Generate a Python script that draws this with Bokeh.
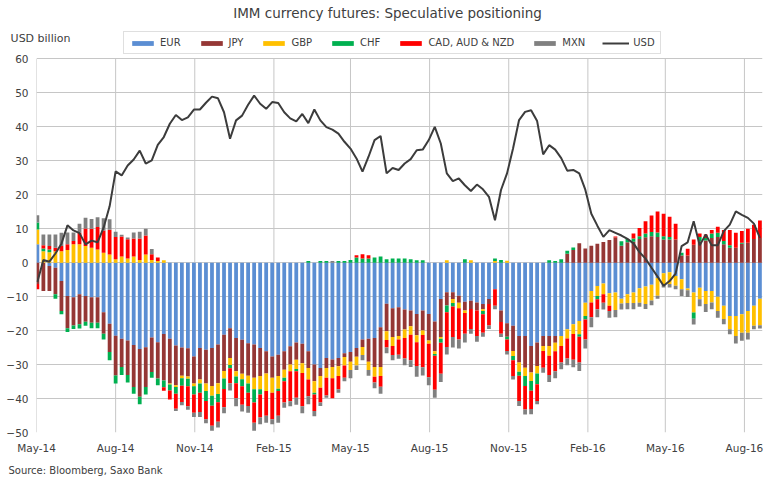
import numpy as np
import pandas as pd
from bokeh.plotting import figure
from bokeh.models import (ColumnDataSource, Range1d, FixedTicker, DatetimeTickFormatter,
                          Legend, LegendItem, Label, LinearAxis)
from bokeh.embed import file_html
from bokeh.resources import INLINE

title_text = "IMM currency futures: Speculative positioning"
y_label = "USD billion"
source_text = "Source: Bloomberg, Saxo Bank"
first_week = "2014-05-02"
tick_dates = ["2014-05-01", "2014-08-01", "2014-11-01", "2015-02-01", "2015-05-01",
              "2015-08-01", "2015-11-01", "2016-02-01", "2016-05-01", "2016-08-01"]
y_ticks = list(range(-50, 61, 10))

eur = [5.4, 0, -1.0, -1.5, -5.4, -9.8, -10.2, -9.3, -9.8, -10.2,
       -10.2, -14.6, -18.0, -21.5, -22.4, -22.9, -24.2, -25.4, -24.9, -22.0,
       -23.4, -21.0, -22.4, -24.4, -25.0, -25.2, -27.6, -25.1, -25.6, -25.1,
       -24.1, -21.2, -19.3, -22.2, -22.7, -23.7, -24.1, -25.1, -26.1, -27.6,
       -27.1, -26.1, -24.6, -23.5, -23.9, -26.1, -30.0, -31.0, -28.1, -28.5,
       -28.1, -26.7, -26.3, -25.1, -22.6, -22.4, -22.2, -19.0, -12.1, -13.4,
       -13.1, -13.8, -14.1, -15.1, -14.1, -15.1, -17.3, -10.7, -8.7, -8.7,
       -9.7, -11.5, -11.2, -11.7, -12.2, -10.7, -7.8, -14.1, -17.8, -18.6,
       -21.6, -21.6, -24.5, -23.5, -21.6, -21.6, -21.6, -21.6, -19.6, -18.1,
       -17.2, -11.8, -8.3, -6.9, -6.1, -9.0, -8.8, -10.6, -9.3, -8.8,
       -7.5, -7.0, -6.5, -4.5, -3.1, -2.8, -3.9, -4.9, -7.6, -8.8,
       -7.4, -8.3, -8.3, -10.0, -12.7, -15.7, -15.7, -15.2, -14.2, -12.7,
       -10.6]
jpy = [-6.3, -8.3, -7.3, -7.8, -8.8, -9.5, -8.3, -8.8, -7.6, -7.5,
       -7.5, -6.3, -8.3, -11.7, -8.3, -10.2, -12.4, -14.1, -11.7, -10.2,
       -10.7, -13.7, -13.2, -11.7, -8.3, -8.3, -8.0, -9.3, -10.0, -11.2,
       -11.4, -10.7, -8.8, -9.8, -10.0, -9.6, -9.8, -8.3, -6.5, -6.3,
       -6.3, -5.4, -5.4, -5.1, -5.7, -4.9, -4.9, -2.4, -2.9, -2.2,
       -2.4, -1.1, -2.9, -2.6, -2.2, -6.8, -8.5, -11.7, -8.1, -8.5,
       -8.5, -5.9, -4.6, -6.3, -5.9, -7.8, -8.8, -11.2, -3.9, -2.0,
       -2.1, -2.6, -2.4, -2.4, -1.5, -1.5, 0, -3.4, -4.0, -7.4,
       -7.8, -9.3, -7.8, -6.9, -2.9, -2.9, -2.0, 0, 2.6, 3.7,
       5.7, 4.2, 5.0, 5.6, 6.1, 6.7, 7.4, 5.0, 6.0, 6.2,
       7.0, 7.5, 7.8, 7.6, 6.8, 6.8, 6.8, 2.1, 2.1, 5.3,
       6.3, 6.5, 7.3, 7.6, 5.4, 4.4, 4.4, 5.6, 5.9, 7.0,
       7.3]
gbp = [4.4, 3.4, 3.1, 3.4, 3.4, 3.7, 5.4, 5.4, 4.9, 4.4,
       3.9, 2.9, 2.4, 1.0, 1.8, 1.2, 1.8, 0.8, 2.4, 0.8,
       0.5, 0.7, -0.3, -0.5, -0.7, -0.7, -0.8, -1.2, -2.2, -2.9,
       -3.2, -2.2, -2.0, -1.5, -1.6, -2.3, -3.4, -3.9, -5.2, -4.4,
       -3.7, -2.4, -2.0, -2.7, -2.9, -3.4, -3.4, -3.4, -2.9, -3.3,
       -2.9, -2.5, -2.4, -2.6, -2.4, -2.4, -2.9, -2.7, -2.6, -2.6,
       -1.0, -2.5, -2.5, -2.0, -1.3, -1.0, -0.8, -0.5, 0.7, -1.2,
       -1.6, -0.7, 0.7, 0, -0.5, 0, 0.5, 0, 0.6, -1.5,
       -2.7, -2.5, -2.5, -2.2, -1.5, -2.9, -2.5, -2.9, -2.7, -2.9,
       -3.9, -3.9, -3.4, -2.9, -3.2, -3.7, -5.1, -1.4, -2.6, -3.1,
       -4.3, -5.2, -4.6, -5.2, -3.2, -3.5, -2.9, -2.9, -0.5, -5.9,
       -3.4, -3.9, -3.4, -4.2, -3.9, -3.9, -5.9, -5.4, -6.4, -5.9,
       -7.8]
chf = [2.0, 0.8, 0.8, -1.3, -1.0, -1.1, -1.0, -1.3, -1.2, -1.6,
       -1.6, -1.7, -2.4, -2.4, -2.4, -2.2, -2.0, -2.2, -2.2, -1.7,
       -2.0, -2.0, -1.7, -2.0, -2.2, -2.2, -2.4, -2.7, -2.9, -2.9,
       -2.4, -3.1, -1.0, -2.0, -2.1, -2.7, -3.9, -1.5, 0, 0,
       -0.7, -1.0, 0, -0.7, 0, 0.5, -0.5, 0.5, 0.5, 0,
       0.5, 0.5, 0.8, 1.5, 1.2, 1.2, 1.5, 1.8, 1.0, 1.2,
       1.2, 1.2, 1.0, 0.7, 0.7, 0, -0.5, -1.2, -2.0, -1.0,
       0, 1.0, 0, 0, -1.0, 0, 0.7, 0.8, -0.8, -1.2,
       -1.2, -2.9, -2.9, -3.2, 0, 0.7, 0.5, 1.0, 0.9, 0.8,
       -0.7, -1.0, 0, -1.0, 0, 0, 0, 1.3, 1.0, 0.9,
       0.8, 1.1, 1.2, 1.3, 1.0, 0.8, 0, 0.8, 0, -1.8,
       1.3, 0.8, 1.3, 1.2, 1.0, 0.7, 0, 0.3, 0, 0,
       0]
cad_aud_nzd = [-1.5, 0.9, 1.0, 1.0, 1.5, 1.7, 1.0, 3.4, 5.2, 5.6,
               6.6, 6.6, 7.3, 6.6, 5.9, 5.7, 5.3, 6.3, 5.6, 1.7,
               1.0, -1.0, -2.7, -4.4, -4.8, -5.9, -5.4, -5.7, -5.4, -5.9,
               -5.7, -5.4, -4.4, -4.4, -5.4, -3.9, -5.9, -6.8, -7.3, -7.8,
               -7.3, -6.3, -8.8, -7.8, -9.8, -4.9, -4.9, -4.4, -5.2, -5.9,
               -3.9, -3.6, 0, 0.7, 1.3, 1.0, -1.7, -3.1, -2.2, -2.7,
               -4.5, -6.0, -7.5, -7.0, -9.5, -9.8, -10.0, -9.1, -10.2, -9.0,
               -9.2, -6.1, -5.9, -7.5, -5.4, -6.3, -4.9, -3.4, -3.4, -4.7,
               -7.4, -6.9, -5.4, -4.9, -4.9, -5.7, -5.9, -4.9, -5.9, -7.6,
               -7.6, -5.9, -4.4, -2.9, -2.5, -1.5, 0.3, 0, 0, 1.5,
               2.4, 3.6, 4.9, 6.2, 6.6, 5.9, 4.7, 0, 2.0, 1.5,
               1.0, 1.0, 1.0, 1.8, 3.2, 4.5, 4.4, 3.4, 4.1, 4.2,
               5.1]
mxn = [2.2, 3.2, 3.4, 3.9, 3.9, 3.5, 2.5, 2.7, 3.1, 2.9,
       2.9, 3.6, 3.1, 1.5, 0.5, 0.5, 1.8, 2.0, 2.0, 1.5,
       0, 0, 0, -0.7, -1.0, -1.0, -1.2, -1.4, -1.2, -1.5,
       -1.7, -1.7, -2.1, -2.4, -2.0, -2.0, -2.4, -2.0, -2.0, -1.5,
       -2.0, -1.5, -1.5, -2.0, -2.0, -2.4, -1.5, -1.0, -0.7, 0.5,
       -1.0, -1.0, -2.4, -1.3, -1.5, -1.7, -1.7, -2.1, -1.7, -1.5,
       -1.2, -2.0, -2.0, -3.2, -2.4, -2.4, -2.4, -2.4, -2.2, -3.1,
       -2.7, -2.6, -1.4, -1.7, -1.2, -1.0, -1.0, -1.0, -1.0, -1.0,
       -1.5, -1.5, -1.5, -1.0, -1.5, -2.0, -2.0, -2.0, -2.0, -2.2,
       -2.5, -2.7, -2.9, -2.4, -2.0, -2.0, -2.2, -1.8, -1.8, -1.8,
       -1.2, -1.4, -1.4, -0.9, -1.0, -1.0, -1.0, -2.0, -2.0, -1.7,
       -2.0, -2.3, -2.0, -2.0, -1.5, -1.5, -2.2, -2.4, -2.0, -1.0,
       -1.0]
usd = [-5.7, 0.8, 0.3, 2.7, 5.6, 11.0, 9.5, 8.7, 5.4, 6.5,
       6.0, 10.3, 16.6, 26.9, 25.7, 28.6, 30.4, 33.0, 29.2, 30.1,
       34.7, 37.0, 40.9, 43.5, 42.0, 42.8, 45.1, 45.1, 47.1, 48.9,
       48.4, 44.3, 36.5, 41.9, 43.3, 46.5, 49.2, 46.8, 45.3, 47.3,
       47.0, 44.3, 42.5, 41.6, 43.8, 41.1, 45.1, 41.9, 39.9, 39.2,
       38.0, 35.6, 33.6, 30.7, 26.8, 31.2, 36.1, 37.3, 26.3, 27.9,
       27.3, 29.2, 30.5, 33.1, 33.3, 36.1, 40.0, 35.1, 26.3, 24.0,
       24.8, 22.8, 21.1, 23.0, 21.6, 19.4, 12.5, 21.4, 26.3, 33.6,
       42.0, 44.4, 44.9, 41.7, 31.9, 34.6, 33.3, 30.8, 27.1, 27.3,
       26.3, 21.5, 14.4, 10.9, 7.6, 9.6, 8.8, 8.0, 7.0, 5.7,
       3.1, 1.2, -1.5, -4.1, -6.8, -5.4, -3.2, 4.9, 6.0, 12.2,
       5.1, 8.3, 5.1, 5.1, 9.3, 11.2, 15.1, 14.1, 13.2, 11.5,
       7.3]

series = [("EUR", eur, "#5b8ed3"), ("JPY", jpy, "#953735"), ("GBP", gbp, "#ffc000"),
          ("CHF", chf, "#00b050"), ("CAD, AUD & NZD", cad_aud_nzd, "#ff0000"),
          ("MXN", mxn, "#808080")]

FONT = "DejaVu Sans"
TXT = "#404040"
GRID = "#c6c6c6"

n = len(usd)
dates = pd.date_range(first_week, periods=n, freq="7D")
day_ms = 86400000

W, H = 766, 478
BL, BR, BB = 36, 4, 44
FW, FH = W - BL - BR, H - BB       # frame size in px
Y_TOP = 77.2                       # frame reaches above the 60 gridline to hold title & legend

p = figure(width=W, height=H, output_backend="svg", toolbar_location=None, title=None,
           x_axis_type="datetime",
           x_range=Range1d(pd.Timestamp("2014-05-01"), pd.Timestamp("2016-08-22")),
           y_range=Range1d(-50, Y_TOP),
           min_border_left=BL, min_border_right=BR, min_border_top=0, min_border_bottom=BB)
p.background_fill_color = "white"
p.border_fill_color = "white"
p.outline_line_color = None

# grid
p.xgrid.visible = False
vsrc = ColumnDataSource(dict(x=pd.to_datetime(tick_dates),
                             y0=[y_ticks[0]] * len(tick_dates),
                             y1=[y_ticks[-1]] * len(tick_dates)))
p.segment(x0="x", y0="y0", x1="x", y1="y1", source=vsrc, line_color=GRID, line_width=1)
p.ygrid.ticker = FixedTicker(ticks=y_ticks)
p.ygrid.grid_line_color = GRID

# stacked bars (positive and negative parts stacked separately)
pos = np.zeros(n)
neg = np.zeros(n)
items = []
for name, vals, color in series:
    v = np.array(vals, dtype=float)
    up = np.where(v > 0, v, 0.0)
    dn = np.where(v < 0, v, 0.0)
    bottom = np.where(v >= 0, pos, neg)
    top = np.where(v >= 0, pos + up, neg + dn)
    pos = pos + up
    neg = neg + dn
    src = ColumnDataSource(dict(x=dates, top=top, bottom=bottom))
    r = p.vbar(x="x", top="top", bottom="bottom", width=4.4 * day_ms, source=src,
               fill_color=color, line_color=None)
    items.append(LegendItem(label=name, renderers=[r]))

lsrc = ColumnDataSource(dict(x=dates, y=usd))
lr = p.line(x="x", y="y", source=lsrc, line_color="#3c3c3c", line_width=2)
items.append(LegendItem(label="USD", renderers=[lr]))

# axes
tick_ms = [pd.Timestamp(d).value // 10**6 for d in tick_dates]
p.xaxis.ticker = FixedTicker(ticks=tick_ms)
fmt = "%b-%y"
p.xaxis.formatter = DatetimeTickFormatter(milliseconds=fmt, seconds=fmt, minsec=fmt, minutes=fmt,
                                          hourmin=fmt, hours=fmt, days=fmt, months=fmt, years=fmt)
p.yaxis.ticker = FixedTicker(ticks=y_ticks)
for ax in (p.xaxis, p.yaxis):
    ax.axis_line_color = None
    ax.major_tick_line_color = None
    ax.minor_tick_line_color = None
    ax.major_tick_out = 0
    ax.major_tick_in = 0
    ax.major_label_text_font = FONT
    ax.major_label_text_font_size = "10.5px"
    ax.major_label_text_color = TXT
p.yaxis.major_label_standoff = 8
p.xaxis.major_label_standoff = 9

# unit label at the top-left, as an outer left axis with one labelled tick
unit_axis = LinearAxis(ticker=FixedTicker(ticks=[66]), major_label_overrides={66: y_label},
                       major_label_standoff=-67, axis_line_color=None,
                       major_tick_line_color=None, minor_tick_line_color=None,
                       major_tick_out=0, major_tick_in=0,
                       major_label_text_font=FONT, major_label_text_font_size="11px",
                       major_label_text_color=TXT)
p.add_layout(unit_axis, "left")

# source note below the date axis
p.extra_x_ranges = {"px": Range1d(0, FW)}
src_axis = LinearAxis(x_range_name="px", ticker=FixedTicker(ticks=[49]),
                      major_label_overrides={49: source_text},
                      major_label_standoff=8, axis_line_color=None,
                      major_tick_line_color=None, minor_tick_line_color=None,
                      major_tick_out=0, major_tick_in=0,
                      major_label_text_font=FONT, major_label_text_font_size="10px",
                      major_label_text_color=TXT)
p.add_layout(src_axis, "below")

# title
p.add_layout(Label(x=351, y=FH - 14, x_units="screen", y_units="screen", text=title_text,
                   text_font=FONT, text_font_size="13.5px", text_color=TXT,
                   text_align="center", text_baseline="middle"))

legend = Legend(items=items, orientation="horizontal", location=(87, FH - 56),
                label_text_font=FONT, label_text_font_size="10px",
                label_text_color=TXT, glyph_width=27, glyph_height=6,
                label_height=10, label_width=5, label_standoff=4, spacing=17, padding=5, margin=0,
                border_line_color="#bfbfbf", border_line_width=1.5,
                background_fill_color="white", background_fill_alpha=1.0)
p.add_layout(legend, "center")

open("out.html", "w").write(file_html(p, INLINE))
